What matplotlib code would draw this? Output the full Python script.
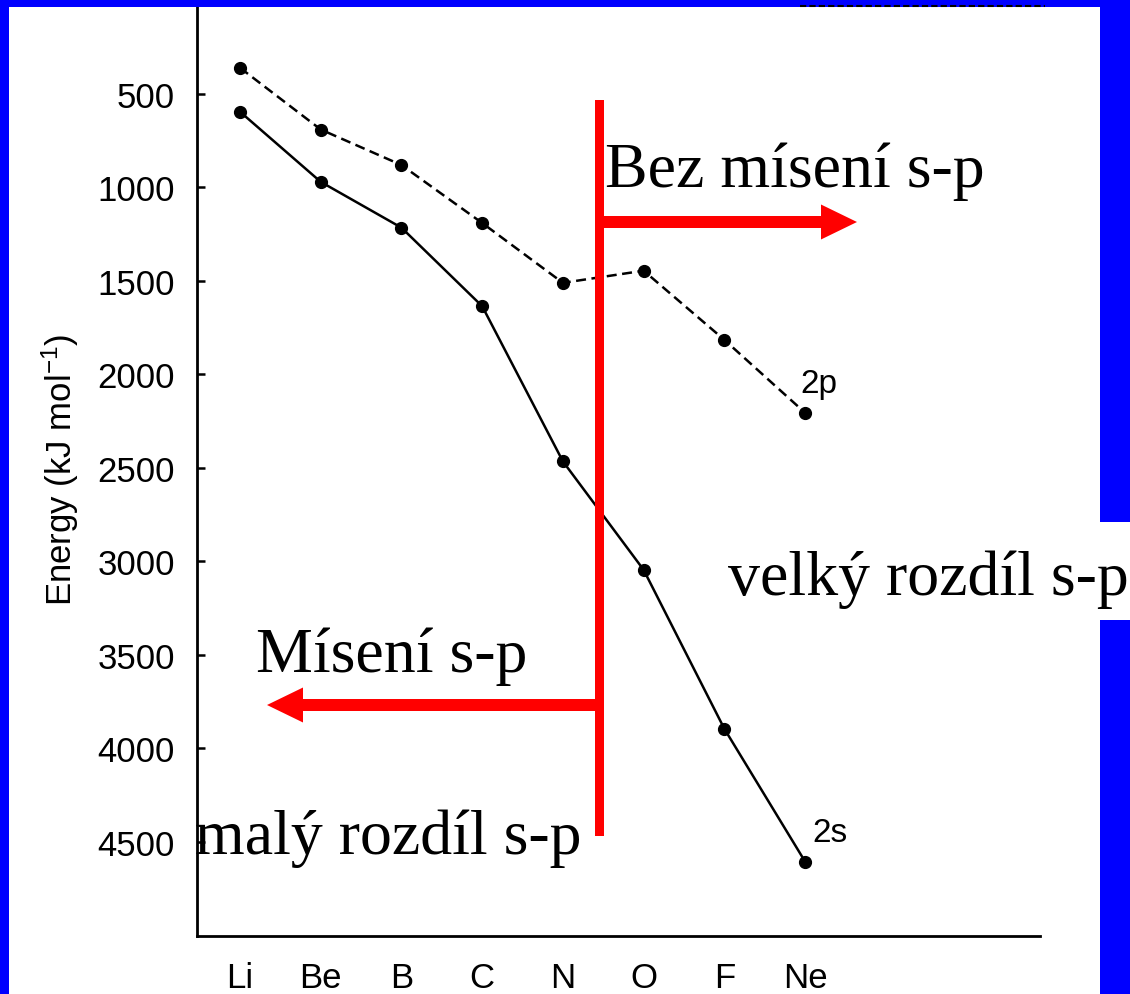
import matplotlib.pyplot as plt
from matplotlib.patches import Rectangle, FancyArrow

plt.rcParams['font.family'] = ['Liberation Sans', 'DejaVu Sans']
plt.rcParams['mathtext.fontset'] = 'custom'
plt.rcParams['mathtext.rm'] = 'Liberation Sans'
plt.rcParams['mathtext.it'] = 'Liberation Sans:italic'

# orbital energies of the second-period elements
elements = ["Li", "Be", "B", "C", "N", "O", "F", "Ne"]
energy_2p = [360, 690, 880, 1190, 1510, 1445, 1815, 2205]
energy_2s = [595, 970, 1215, 1635, 2465, 3045, 3895, 4605]
y_ticks = [500, 1000, 1500, 2000, 2500, 3000, 3500, 4000, 4500]

W, H = 1130, 995
fig = plt.figure(figsize=(W / 100, H / 100), dpi=100)
fig.patch.set_facecolor("white")

ax = fig.add_axes([197 / W, 1 - 937 / H, (1040 - 197) / W, 937 / H])
xs = list(range(len(elements)))
ax.plot(xs, energy_2p, color="black", lw=1.8, ls=(0, (4, 2.2)),
        marker="o", ms=8.5)
ax.plot(xs, energy_2s, color="black", lw=1.8, ls="-",
        marker="o", ms=8.5)

ax.annotate("2p", xy=(xs[-1], energy_2p[-1]), xytext=(-5, 21),
            textcoords="offset pixels", ha="left", va="baseline", fontsize=24)
ax.annotate("2s", xy=(xs[-1], energy_2s[-1]), xytext=(7, 21),
            textcoords="offset pixels", ha="left", va="baseline", fontsize=24)

ax.set_xlim(-0.533, 9.91)
ax.set_ylim(5003, -8)
ax.set_yticks(y_ticks)
ax.set_xticks(xs)
ax.set_xticklabels(elements)
ax.tick_params(axis="y", direction="in", length=6, width=1.8, pad=16, labelsize=25)
ax.tick_params(axis="x", length=0, pad=18, labelsize=25)
for side in ["top", "right"]:
    ax.spines[side].set_visible(False)
for side in ["left", "bottom"]:
    ax.spines[side].set_linewidth(2)

# overlay in pixel units for the border and red annotations
ov = fig.add_axes([0, 0, 1, 1], zorder=5)
ov.set_xlim(0, W)
ov.set_ylim(H, 0)
ov.axis("off")
ov.patch.set_visible(False)

ov.text(60, 470, r"Energy (kJ mol$^{-1}$)", rotation=90, ha="center",
        va="center", fontsize=25)

ov.plot([800, 1045], [7, 7], color="black", lw=1.5, ls=(0, (3, 1.5)))

blue = "#0000ff"
ov.add_patch(Rectangle((0, 0), 9, H, color=blue, lw=0))
ov.add_patch(Rectangle((0, 0), W, 7.5, color=blue, lw=0))
ov.add_patch(Rectangle((1100, 0), 30, 523, color=blue, lw=0))
ov.add_patch(Rectangle((1100, 621), 30, H - 621, color=blue, lw=0))

red = "#ff0000"
ov.add_patch(Rectangle((595, 101), 9, 736, color=red, lw=0))
ov.add_patch(FancyArrow(600, 223, 257, 0, width=12, head_width=35,
                        head_length=36, length_includes_head=True,
                        color=red, lw=0))
ov.add_patch(FancyArrow(600, 706, -333, 0, width=12, head_width=35,
                        head_length=36, length_includes_head=True,
                        color=red, lw=0))

serif = dict(family=["Liberation Serif", "DejaVu Serif"], fontsize=46,
             va="baseline", ha="left")
ov.text(605, 187, "Bez mísení s-p", **serif)
ov.text(256, 672, "Mísení s-p", **serif)
ov.text(195, 854, "malý rozdíl s-p", **serif)
ov.text(728, 595, "velký rozdíl s-p", **serif)

fig.savefig("out.png", dpi=100, facecolor="white")
